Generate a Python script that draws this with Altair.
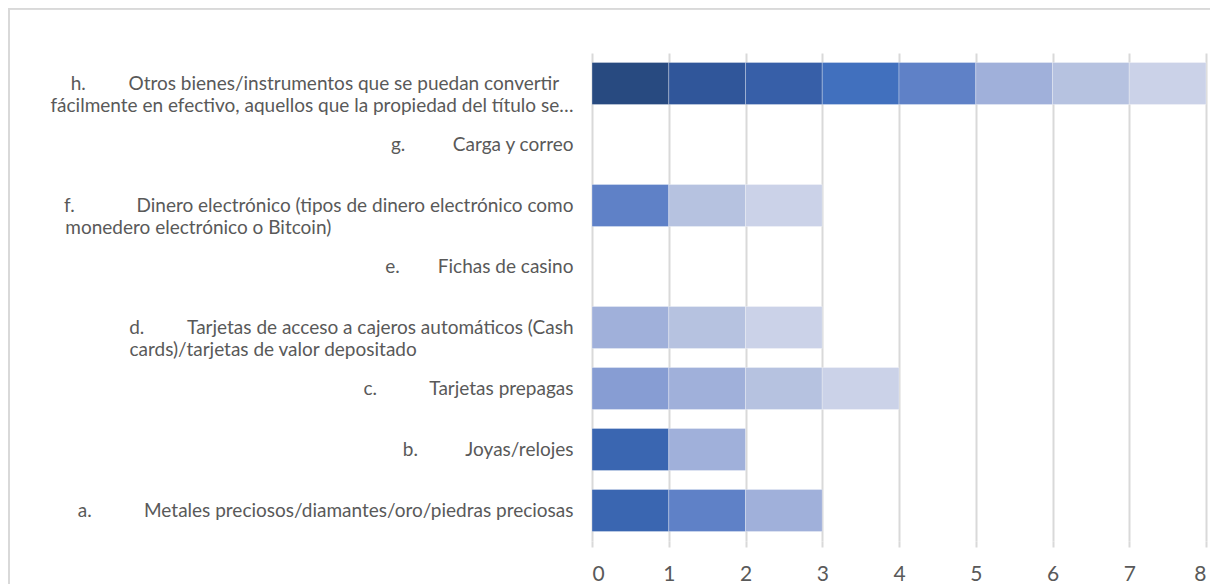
import altair as alt
import pandas as pd

# categories bottom (a) to top (h); "|" marks a line break
EM = "\u2003"
EN = "\u2002"
QS = "\u2005"
WJ = "\u2060"
category_labels = [
    "a." + EM * 3 + EN + "Metales preciosos/diamantes/oro/piedras preciosas",
    "b." + EM * 3 + QS + "Joyas/relojes",
    "c." + EM * 3 + EN + "Tarjetas prepagas",
    "d." + EM * 2 + EN + QS + "Tarjetas de acceso a cajeros automáticos (Cash|cards)/tarjetas de valor depositado" + EM * 10 + EN + QS + WJ,
    "e." + EM * 2 + EN + "Fichas de casino",
    "f." + EM * 3 + EN + QS + QS + "Dinero electrónico (tipos de dinero electrónico como|monedero electrónico o Bitcoin)" + EM * 16 + EN + QS + WJ,
    "g." + EM * 3 + QS + "Carga y correo",
    "h." + EM * 3 + "Otros bienes/instrumentos que se puedan convertir" + EN + QS + WJ + "|fácilmente en efectivo, aquellos que la propiedad del título se…",
]

series_names = ["S1", "S2", "S3", "S4", "S5", "S6", "S7", "S8", "S9", "S10"]
series_colors = ["#284A80", "#30569A", "#375FA8", "#3A66B1", "#4170BE",
                 "#5F81C7", "#879DD3", "#A0B0DA", "#B6C2E0", "#CBD2E8"]

# values per series, in category order a..h
s1 = [0, 0, 0, 0, 0, 0, 0, 1]
s2 = [0, 0, 0, 0, 0, 0, 0, 1]
s3 = [0, 0, 0, 0, 0, 0, 0, 1]
s4 = [1, 1, 0, 0, 0, 0, 0, 0]
s5 = [0, 0, 0, 0, 0, 0, 0, 1]
s6 = [1, 0, 0, 0, 0, 1, 0, 1]
s7 = [0, 0, 1, 0, 0, 0, 0, 0]
s8 = [1, 1, 1, 1, 0, 0, 0, 1]
s9 = [0, 0, 1, 1, 0, 1, 0, 1]
s10 = [0, 0, 1, 1, 0, 1, 0, 1]
series_values = [s1, s2, s3, s4, s5, s6, s7, s8, s9, s10]

rows = []
for si, (name, vals) in enumerate(zip(series_names, series_values)):
    for ci, v in enumerate(vals):
        if v > 0:
            rows.append({"cat": category_labels[ci], "series": name, "order": si, "value": v})
df = pd.DataFrame(rows)

y_sort = list(reversed(category_labels))

W = 614
H = 488

bars = alt.Chart(df).mark_bar(stroke="white", strokeWidth=0.6, strokeOpacity=0.5).encode(
    y=alt.Y("cat:N", sort=y_sort,
            scale=alt.Scale(domain=y_sort, paddingInner=0.31, paddingOuter=0.155),
            axis=alt.Axis(title=None, domain=False, ticks=False, labelPadding=19,
                          labelFont="Lato", labelFontSize=19, labelColor="#595959",
                          labelLimit=800, labelLineHeight=22,
                          labelExpr="split(datum.label, '|')")),
    x=alt.X("value:Q", stack="zero",
            scale=alt.Scale(domain=[0, 8], nice=False),
            axis=alt.Axis(title=None, values=list(range(9)), domain=False,
                          tickSize=6, tickColor="#d9d9d9", tickWidth=2,
                          grid=True, gridColor="#d9d9d9", gridWidth=2,
                          labelFont="Lato", labelFontSize=21, labelColor="#595959",
                          labelPadding=16, format="d")),
    color=alt.Color("series:N", scale=alt.Scale(domain=series_names, range=series_colors), legend=None),
    order=alt.Order("order:Q"),
)

left_border = alt.Chart(df).mark_rule(color="#d9d9d9", strokeWidth=2).encode(
    x=alt.value(-583), y=alt.value(-45), y2=alt.value(540)
)
top_border = alt.Chart(df).mark_rule(color="#d9d9d9", strokeWidth=1.5).encode(
    x=alt.value(-584), x2=alt.value(625), y=alt.value(-44.5)
)

chart = alt.layer(bars, left_border, top_border).properties(
    width=W, height=H, background="white",
    autosize=alt.AutoSizeParams(type="none"),
    padding={"left": 584, "top": 45, "right": 4, "bottom": 43},
).configure_view(stroke=None)

chart.save("out.html", embed_options={"renderer": "svg", "actions": False})
